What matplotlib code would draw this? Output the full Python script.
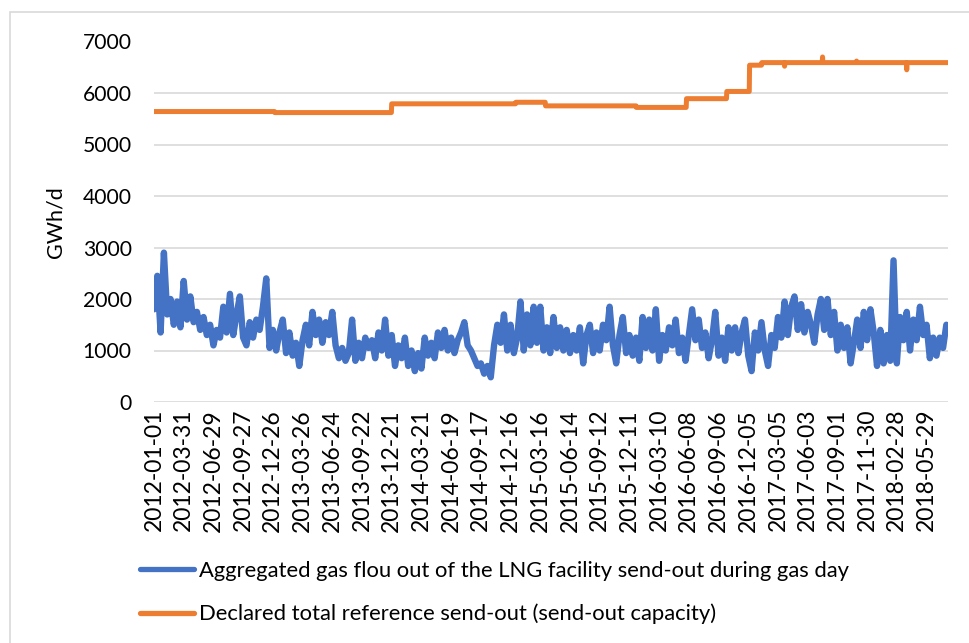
#!/usr/bin/env python
# -*- coding: utf-8 -*-
import sys
import numpy as np
import matplotlib as mpl
mpl.use('Agg')
import matplotlib.pyplot as plt
import matplotlib.dates as mdates
import pandas as pd

# aggregated send-out, every 10 days from 2012-01-01 (GWh/d)
flow_start = '2012-01-01'
flow_step_days = 10
flow_values = [
  1800, 2450, 1350, 2900, 1700, 2000, 1500, 1950, 1450, 2350,
  1600, 2050, 1550, 1750, 1400, 1650, 1300, 1500, 1100, 1400,
  1250, 1850, 1350, 2100, 1300, 1700, 2050, 1250, 1100, 1550,
  1250, 1600, 1400, 1850, 2400, 1050, 1400, 1000, 1350, 1600,
  950, 1350, 900, 1150, 700, 1200, 1500, 1100, 1750, 1300,
  1600, 1150, 1550, 1300, 1750, 1100, 850, 1050, 800, 950,
  1600, 800, 1150, 850, 1250, 1050, 1200, 850, 1350, 1000,
  1600, 900, 1300, 700, 1100, 850, 1250, 700, 1000, 600,
  950, 650, 1250, 900, 1150, 850, 1350, 1050, 1400, 1000,
  1250, 950, 1200, 1350, 1550, 1100, 1000, 850, 700, 750,
  550, 700, 480, 1100, 1500, 1150, 1700, 1000, 1500, 950,
  1250, 1950, 1000, 1700, 1100, 1850, 1150, 1850, 1000, 1450,
  950, 1650, 1050, 1450, 1000, 1400, 950, 1300, 1000, 1450,
  750, 1300, 1500, 950, 1350, 1000, 1500, 1200, 1850, 1100,
  750, 1300, 1650, 950, 1300, 900, 1250, 800, 1650, 1050,
  1600, 1000, 1800, 800, 1300, 1000, 1450, 1100, 1600, 950,
  1250, 800, 1300, 1800, 1200, 1600, 1050, 1350, 850, 1200,
  1750, 900, 1250, 800, 1450, 1000, 1450, 950, 1350, 1600,
  900, 600, 1350, 1000, 1550, 1000, 700, 1300, 1050, 1650,
  1250, 1950, 1300, 1850, 2050, 1400, 1900, 1350, 1750, 1500,
  1150, 1700, 2000, 1400, 2000, 1300, 1750, 1000, 1500, 1050,
  1450, 750, 1150, 1600, 1050, 1750, 1200, 1800, 1350, 700,
  1400, 750, 1300, 800, 2750, 750, 1650, 1200, 1750, 1000,
  1600, 1200, 1850, 1300, 1500, 850, 1250, 900, 1250, 1050,
  1500,
]

# declared send-out capacity: step changes (date, level) and one-day blips
cap_dates = ['2012-01-01', '2013-01-01', '2013-12-21', '2015-01-01', '2015-04-01',
             '2016-01-01', '2016-06-01', '2016-10-01', '2016-12-09', '2017-01-15',
             '2018-08-01']
cap_levels = [5640, 5620, 5790, 5820, 5750, 5720, 5890, 6030, 6540, 6590, 6590]
blip_dates = ['2017-03-25', '2017-07-18', '2017-10-29', '2018-03-30']
blip_levels = [6520, 6700, 6620, 6450]

tick_start = '2012-01-01'
tick_end = '2018-05-29'

flow_label = 'Aggregated gas flou out of the LNG facility send-out during gas day'
cap_label = 'Declared total reference send-out (send-out capacity)'

BLUE = '#4472C4'
ORANGE = '#ED7D31'
GRID = '#D9D9D9'


def main():
  plt.rcParams['font.family'] = ['Lato', 'DejaVu Sans']

  fig = plt.figure(figsize=(9.69, 6.43), dpi=100)
  # chart area border (only left/top visible in the reference)
  fig.patches.append(mpl.patches.Rectangle((10 / 969, -0.5), 1.5, 1.5 - 12 / 643,
                                           transform=fig.transFigure, fill=False,
                                           edgecolor=GRID, linewidth=1.2))

  ax = fig.add_axes([154 / 969, 1 - 402 / 643, 794 / 969, 360.5 / 643])

  flow_dates = pd.date_range(flow_start, periods=len(flow_values), freq=f'{flow_step_days}D')

  # capacity as a daily step series
  cap_days = pd.date_range(cap_dates[0], cap_dates[-1], freq='D')
  cap = pd.Series(np.nan, index=cap_days)
  for d, v in zip(cap_dates, cap_levels):
    cap[pd.Timestamp(d)] = v
  cap = cap.ffill()
  for d, v in zip(blip_dates, blip_levels):
    cap[pd.Timestamp(d)] = v

  ax.plot(flow_dates, flow_values, color=BLUE, linewidth=4.6, solid_joinstyle='round',
          solid_capstyle='round', label=flow_label, zorder=3)
  ax.plot(cap.index, cap.values, color=ORANGE, linewidth=3.6, solid_capstyle='round',
          label=cap_label, zorder=3)

  ax.set_ylim(0, 7000)
  ax.set_yticks(range(0, 7001, 1000))
  ax.set_xlim(pd.Timestamp(flow_start), pd.Timestamp('2018-08-02'))
  ticks = pd.date_range(tick_start, tick_end, freq='90D')
  ax.set_xticks(ticks)
  ax.xaxis.set_major_formatter(mdates.DateFormatter('%Y-%m-%d'))

  ax.grid(axis='y', color=GRID, linewidth=1.2)
  ax.set_axisbelow(True)
  for s in ax.spines.values():
    s.set_visible(False)
  ax.tick_params(axis='both', length=0, colors='black')
  ax.tick_params(axis='y', pad=16, labelsize=15.2)
  ax.tick_params(axis='x', pad=5, labelsize=16.5)
  plt.setp(ax.get_xticklabels(), rotation=90)

  ax.set_ylabel('GWh/d', fontsize=15.5)
  ax.yaxis.set_label_coords(-0.112, 0.5)

  leg = fig.legend(loc='upper left', bbox_to_anchor=(140 / 969, 1 - 561 / 643), frameon=False,
                   fontsize=15.8, handlelength=2.45, handletextpad=0.25, labelspacing=1.03,
                   borderpad=0, borderaxespad=0)
  for h in leg.get_lines():
    h.set_linewidth(3.8)

  fig.savefig('out.png', dpi=100)


if __name__ == "__main__":
  sys.exit(main())
